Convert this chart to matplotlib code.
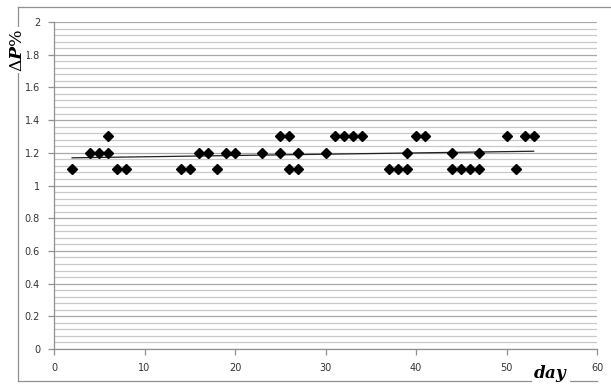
import numpy as np
import matplotlib.pyplot as plt
from matplotlib.lines import Line2D
from matplotlib.ticker import MultipleLocator

days = [2, 4, 5, 6, 6, 7, 8, 14, 15, 16, 17, 18, 19, 20, 23, 25, 25, 26, 26,
        27, 27, 30, 31, 32, 33, 34, 37, 38, 39, 39, 40, 41, 44, 44, 45, 46,
        47, 47, 50, 51, 52, 53]
dp = [1.1, 1.2, 1.2, 1.3, 1.2, 1.1, 1.1, 1.1, 1.1, 1.2, 1.2, 1.1, 1.2, 1.2,
      1.2, 1.3, 1.2, 1.3, 1.1, 1.2, 1.1, 1.2, 1.3, 1.3, 1.3, 1.3, 1.1, 1.1,
      1.1, 1.2, 1.3, 1.3, 1.2, 1.1, 1.1, 1.1, 1.1, 1.2, 1.3, 1.1, 1.3, 1.3]
x_ticks = [0, 10, 20, 30, 40, 50, 60]
y_ticks = [0, 0.2, 0.4, 0.6, 0.8, 1.0, 1.2, 1.4, 1.6, 1.8, 2.0]
y_labels = ['0', '0.2', '0.4', '0.6', '0.8', '1', '1.2', '1.4', '1.6', '1.8', '2']


def main():
    plt.rcParams['mathtext.fontset'] = 'dejavuserif'
    fig = plt.figure(figsize=(6.11, 3.85), dpi=100)
    ax = fig.add_axes([54 / 611, 1 - 349 / 385, (597 - 54) / 611, (349 - 22) / 385])

    ax.set_xlim(0, 60)
    ax.set_ylim(0, 2)
    ax.set_xticks(x_ticks)
    ax.set_yticks(y_ticks)
    ax.set_yticklabels(y_labels)
    ax.yaxis.set_minor_locator(MultipleLocator(0.04))
    ax.grid(True, axis='y', which='major', color='#a8a8a8', lw=0.9)
    ax.grid(True, axis='y', which='minor', color='#c8c8c8', lw=0.9)
    ax.set_axisbelow(True)
    for s in ['top', 'right']:
        ax.spines[s].set_visible(False)
    for s in ['left', 'bottom']:
        ax.spines[s].set_color('#909090')
        ax.spines[s].set_linewidth(0.9)
    ax.tick_params(which='major', length=4, width=0.9, color='#909090',
                   labelsize=7, labelcolor='#333333', pad=6)
    ax.tick_params(which='minor', length=0)

    x = np.array(days, dtype=float)
    y = np.array(dp)
    k, b = np.polyfit(x, y, 1)
    xs = np.array([x.min(), x.max()])
    ax.plot(xs, k * xs + b, color='#202020', lw=0.9, zorder=2)
    ax.plot(x, y, ls='none', marker='D', ms=5.2, color='black', zorder=3)

    # outer frame
    fig.add_artist(Line2D([18 / 611, 18 / 611], [1 - 7 / 385, 1 - 381 / 385],
                          transform=fig.transFigure, color='#909090', lw=0.9))
    fig.add_artist(Line2D([18 / 611, 1.0], [1 - 7 / 385, 1 - 7 / 385],
                          transform=fig.transFigure, color='#909090', lw=0.9))
    fig.add_artist(Line2D([18 / 611, 597 / 611], [1 - 381 / 385, 1 - 381 / 385],
                          transform=fig.transFigure, color='#909090', lw=0.9))

    fig.text(17 / 611, 1 - 50 / 385, r'$\Delta\boldsymbol{P}\%$', rotation=90,
             ha='center', va='center', fontsize=12.5,
             bbox=dict(facecolor='white', edgecolor='none', pad=1))
    fig.text(551 / 611, 1 - 374 / 385, r'$\boldsymbol{day}$', ha='center',
             va='center', fontsize=12,
             bbox=dict(facecolor='white', edgecolor='none', pad=1))

    fig.savefig('out.png', dpi=100)


if __name__ == '__main__':
    main()
